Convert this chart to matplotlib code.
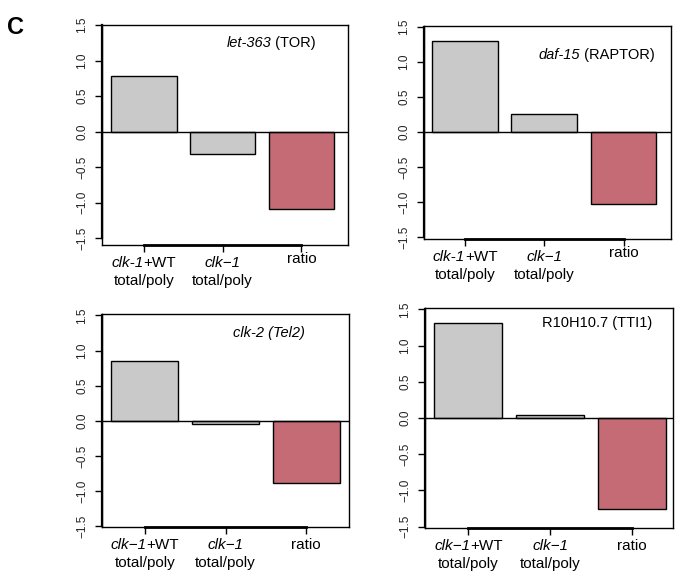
"""
plot.py
Four small barplots (panel C): total/poly shifts and ratio per gene
"""
import matplotlib
matplotlib.use("Agg")
import matplotlib.pyplot as plt
from matplotlib.offsetbox import TextArea, HPacker, VPacker, AnnotationBbox

FONT = ["Liberation Sans", "DejaVu Sans"]
plt.rcParams["font.family"] = FONT

W, H = 675, 575

# values (log ratios)
let363 = [0.78, -0.31, -1.09]
daf15 = [1.29, 0.25, -1.03]
clk2 = [0.85, -0.04, -0.89]
r10h10 = [1.31, 0.04, -1.26]

# titles as (text, style) pieces
title_let363 = [("let-363", "italic"), (" (TOR)", "normal")]
title_daf15 = [("daf-15", "italic"), (" (RAPTOR)", "normal")]
title_clk2 = [("clk-2 (Tel2)", "italic")]
title_r10h10 = [("R10H10.7 (TTI1)", "normal")]

# x labels: two label styles used in the figure
labels_hyphen = [
    [[("clk-1", "italic"), ("+WT", "normal")], [("total/poly", "normal")]],
    [[("clk\u22121", "italic")], [("total/poly", "normal")]],
    [[("ratio", "normal")]],
]
labels_minus = [
    [[("clk\u22121", "italic"), ("+WT", "normal")], [("total/poly", "normal")]],
    [[("clk\u22121", "italic")], [("total/poly", "normal")]],
    [[("ratio", "normal")]],
]

yticks = [-1.5, -1.0, -0.5, 0.0, 0.5, 1.0, 1.5]

GREY = "#c8c9c8"
RED = "#c46b76"
colors = [GREY, GREY, RED]

# layout: (values, title, labels, axes box in px [l, t, r, b], xlim, ylim, title pos, ratio lift)
panels = [
    (let363, title_let363, labels_hyphen, (102, 25, 348, 245), (-0.53, 2.59), (-1.596, 1.503), (0.687, 0.918), 3),
    (daf15, title_daf15, labels_hyphen, (424, 26, 671, 239), (-0.52, 2.60), (-1.53, 1.51), (0.698, 0.864), 3),
    (clk2, title_clk2, labels_minus, (102, 314, 349, 527), (-0.53, 2.53), (-1.51, 1.52), (0.674, 0.911), 0),
    (r10h10, title_r10h10, labels_minus, (425, 308, 673, 528), (-0.53, 2.50), (-1.52, 1.52), (0.694, 0.933), 0),
]


def rich_line(parts, size):
    return HPacker(
        children=[TextArea(t, textprops=dict(fontstyle=s, fontsize=size, family=FONT)) for t, s in parts],
        pad=0, sep=0, align="baseline",
    )


def main():
    fig = plt.figure(figsize=(W / 100, H / 100), dpi=100)

    for vals, title, labels, (l, t, r, b), xlim, ylim, tpos, lift in panels:
        ax = fig.add_axes([l / W, 1 - b / H, (r - l) / W, (b - t) / H])
        xs = list(range(len(vals)))
        ax.bar(xs, vals, width=0.83, color=colors, edgecolor="black", linewidth=1.0, zorder=2)
        ax.axhline(0, color="black", linewidth=1.0, zorder=3)
        ax.set_xlim(*xlim)
        ax.set_ylim(*ylim)

        ax.set_yticks(yticks)
        ax.set_yticklabels([f"{v:.1f}".replace("-", "\u2212") for v in yticks],
                           rotation=90, va="center", fontsize=8.5, color="#222222")
        ax.set_xticks(xs)
        ax.set_xticklabels([""] * len(xs))
        ax.tick_params(axis="both", length=5, width=1.0, direction="out", pad=5)
        for sp in ax.spines.values():
            sp.set_linewidth(1.0)

        # R-style axis line between first and last tick
        ax.plot([xs[0], xs[-1]], [0, 0], transform=ax.get_xaxis_transform(),
                color="black", linewidth=2.0, clip_on=False, zorder=4)
        ax.plot([0, 0], [yticks[0], yticks[-1]], transform=ax.get_yaxis_transform(),
                color="black", linewidth=1.6, clip_on=False, zorder=4)

        # title inside the box
        tbox = rich_line(title, 10.5)
        ax.add_artist(AnnotationBbox(tbox, tpos, xycoords="axes fraction",
                                     box_alignment=(0.5, 0.5), frameon=False, pad=0))

        # category labels below
        for x, lines in zip(xs, labels):
            box = VPacker(children=[rich_line(p, 11) for p in lines], align="center", pad=0, sep=3)
            dy = -8 + (lift if len(lines) == 1 else 0)
            ax.add_artist(AnnotationBbox(box, (x, 0), xycoords=("data", "axes fraction"),
                                         xybox=(0, dy), boxcoords="offset points",
                                         box_alignment=(0.5, 1.0), frameon=False, pad=0,
                                         annotation_clip=False))

    fig.text(7 / W, 1 - 27 / H, "C", fontsize=17, fontweight="bold", va="center", ha="left")

    fig.savefig("out.png", dpi=100)
    plt.close(fig)


if __name__ == "__main__":
    main()
